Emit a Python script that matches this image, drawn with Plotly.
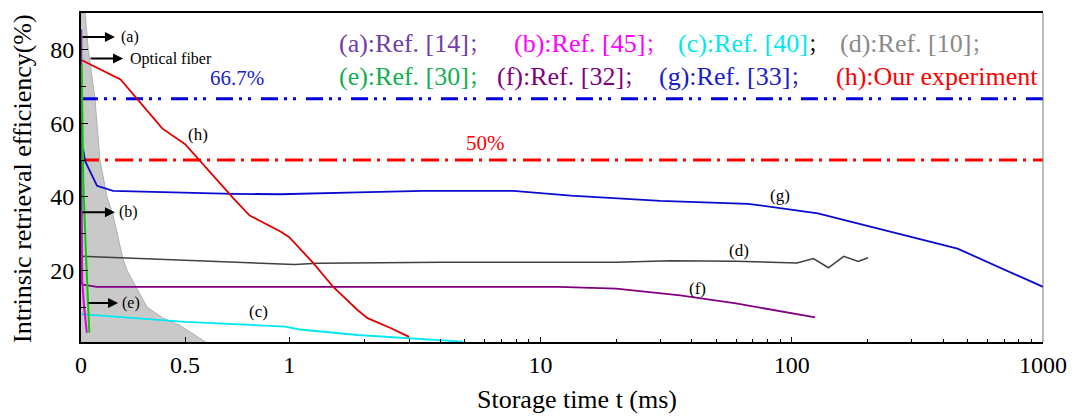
import numpy as np
import plotly.graph_objects as go

# ---------------- data ----------------
# storage time in ms, efficiency in %
fiber_t = [0.0, 0.02, 0.035, 0.067, 0.091, 0.125, 0.154, 0.173, 0.202, 0.221, 0.269, 0.317, 0.394, 0.476, 0.558, 0.611, 0.0]
fiber_v = [90, 90, 80, 66.7, 50, 40, 35, 30, 23, 20, 15, 10, 7, 5, 2, 0, 0]

a_t = [0.001, 0.002, 0.003]
a_v = [85.5, 50, 16]
b_t = [0.002, 0.006, 0.015, 0.028]
b_v = [36, 17, 10, 3]
c_t = [0, 0.5, 0.98, 1.1, 1.87, 3.0, 4.9]
c_v = [8.1, 6.0, 4.7, 3.9, 2.4, 1.5, 0.6]
d_t = [0, 1.05, 1.3, 4.1, 20, 33, 60, 85, 105, 122, 140, 161, 184, 201]
d_v = [23.8, 21.6, 21.9, 22.2, 22.2, 22.6, 22.5, 22.2, 22.0, 23.2, 20.7, 23.8, 22.4, 23.4]
e_t = [0.003, 0.011, 0.024, 0.04]
e_v = [76, 44, 24, 3]
f_t = [0, 0.077, 1.0, 11.8, 20, 36, 60, 100, 124]
f_v = [16.2, 15.5, 15.5, 15.5, 15.0, 13.2, 11.0, 8.4, 7.2]
g_t = [0.01, 0.02, 0.077, 0.154, 0.73, 0.957, 1.87, 3.42, 7.8, 13.2, 30, 67, 127, 457, 1000]
g_v = [53, 49.7, 43, 41.6, 40.8, 40.7, 41.2, 41.6, 41.6, 40.3, 38.9, 38.1, 35.5, 25.9, 15.5]
h_t = [0, 0.19, 0.39, 0.5, 0.73, 0.81, 0.96, 1.0, 1.25, 1.5, 1.87, 2.05, 2.53, 3.0]
h_v = [77.3, 71.9, 58.6, 54.3, 39.7, 34.9, 30.5, 29.0, 21.9, 15.4, 9.2, 7.0, 4.3, 1.9]

limit_g = 66.7
limit_h = 50.0

major_ticks = [0, 0.5, 1, 10, 100, 1000]
major_text = ["0", "0.5", "1", "10", "100", "1000"]
minor_ticks = [m * d for d in (1, 10, 100) for m in range(2, 10)]

SEMI = "<span style=\"font-family:'Noto Sans CJK SC';font-size:19px\">；</span>"
SEMI_BLACK = "<span style=\"font-family:'Noto Sans CJK SC';font-size:19px;color:black\">；</span>"
legend_row1 = ["(a):Ref. [14]" + SEMI, "(b):Ref. [45]" + SEMI, "(c):Ref. [40]" + SEMI_BLACK, "(d):Ref. [10]" + SEMI]
legend_row1_colors = ["#7040a8", "#ff00ff", "#00e8f0", "#8a8a8a"]
legend_row2 = ["(e):Ref. [30]" + SEMI, "(f):Ref. [32]" + SEMI, "(g):Ref. [33]" + SEMI, "(h):Our experiment"]
legend_row2_colors = ["#10b050", "#800080", "#1a1ad0", "#ff0000"]

# ---------------- axis transform: linear 0..1, log beyond ----------------
K = 251.0 / 208.0


def u(t):
    t = np.asarray(t, dtype=float)
    return np.where(t <= 1, t, 1 + np.log10(np.maximum(t, 1.0)) * K)


FONT = "Liberation Serif"

fig = go.Figure()

# optical fiber shaded area
fig.add_trace(go.Scatter(x=u(fiber_t), y=fiber_v, mode="lines", fill="toself",
                         fillcolor="#c9c9c9", line=dict(color="#b0b0b0", width=1),
                         hoverinfo="skip", showlegend=False))

# reference lines
fig.add_trace(go.Scatter(x=u([0, 1000]), y=[limit_g, limit_g], mode="lines",
                         line=dict(color="#0000dd", width=3, dash="17px,6px,3px,6px,3px,10px"),
                         showlegend=False))
fig.add_trace(go.Scatter(x=u([0, 1000]), y=[limit_h, limit_h], mode="lines",
                         line=dict(color="#ff0000", width=3, dash="18px,6px,3px,7px"),
                         showlegend=False))

series = [
    (d_t, d_v, "#404040", 1.5),
    (f_t, f_v, "#800080", 1.8),
    (c_t, c_v, "#00e8f0", 1.8),
    (g_t, g_v, "#0a0ad0", 1.8),
    (h_t, h_v, "#e00000", 1.8),
    (a_t, a_v, "#7030a0", 2),
    (b_t, b_v, "#e000e0", 2),
    (e_t, e_v, "#00d000", 2),
]
for t, v, col, w in series:
    fig.add_trace(go.Scatter(x=u(t), y=v, mode="lines", line=dict(color=col, width=w),
                             showlegend=False))

annotations = []

# legend-like text
row1_x = [1.231, 2.072, 2.856, 3.635]
row2_x = [1.231, 1.990, 2.764, 3.615]
for txt, col, x in zip(legend_row1, legend_row1_colors, row1_x):
    annotations.append(dict(x=x, y=81.6, xref="x", yref="y", text=txt, showarrow=False,
                            xanchor="left", yanchor="middle", font=dict(family=FONT, size=26, color=col)))
for txt, col, x in zip(legend_row2, legend_row2_colors, row2_x):
    annotations.append(dict(x=x, y=72.7, xref="x", yref="y", text=txt, showarrow=False,
                            xanchor="left", yanchor="middle", font=dict(family=FONT, size=26, color=col)))

# percentage labels
annotations.append(dict(x=0.75, y=72.4, text="66.7%", showarrow=False,
                        font=dict(family=FONT, size=21, color="#2020d0")))
annotations.append(dict(x=1.942, y=54.6, text="50%", showarrow=False,
                        font=dict(family=FONT, size=21, color="#ff0000")))

# curve labels
for txt, x, y in [("(h)", 0.5625, 57), ("(g)", 3.356, 40.3), ("(d)", 3.159, 25.4),
                  ("(f)", 2.962, 15.1), ("(c)", 0.851, 8.9)]:
    annotations.append(dict(x=x, y=y, text=txt, showarrow=False,
                            font=dict(family=FONT, size=17, color="black")))

# arrows with labels
for head_x, y, ax, lab, lab_x in [(0.163, 83.5, -34, "(a)", 0.183),
                                  (0.202, 77.6, -34, "Optical fiber", 0.226),
                                  (0.163, 35.8, -34, "(b)", 0.173),
                                  (0.178, 11.1, -31, "(e)", 0.188)]:
    annotations.append(dict(x=head_x, y=y, ax=ax, ay=0, text="", showarrow=True,
                            arrowhead=2, arrowsize=1, arrowwidth=2, arrowcolor="black"))
    annotations.append(dict(x=lab_x, y=y, text=lab, showarrow=False, xanchor="left",
                            font=dict(family=FONT, size=16, color="black")))

# axis titles
annotations.append(dict(x=577, y=400, xref="paper", yref="paper", text="Storage time t (ms)",
                        showarrow=False, xanchor="center", yanchor="middle",
                        font=dict(family=FONT, size=26, color="black")))
annotations.append(dict(x=23, y=178, xref="paper", yref="paper", text="Intrinsic retrieval efficiency(%)",
                        showarrow=False, textangle=-90, xanchor="center", yanchor="middle",
                        font=dict(family=FONT, size=26, color="black")))

W, H = 1078, 418
L, R, T, B = 81, 35, 11, 76
pw, ph = W - L - R, H - T - B
for a in annotations:
    if a.get("xref") == "paper":
        a["x"] = (a["x"] - L) / pw
        a["y"] = (H - B - a["y"]) / ph

fig.update_layout(
    width=W, height=H,
    margin=dict(l=L, r=R, t=T, b=B),
    plot_bgcolor="white", paper_bgcolor="white",
    showlegend=False,
    annotations=annotations,
    shapes=[dict(type="line", xref="paper", yref="paper", x0=1, x1=1, y0=0, y1=1,
                 line=dict(color="#777777", width=1))],
    xaxis=dict(range=[0, float(u(1000))], tickmode="array", tickvals=list(u(major_ticks)),
               ticktext=major_text, ticks="inside", ticklen=5, tickwidth=1.2, tickcolor="black",
               minor=dict(tickmode="array", tickvals=list(u(minor_ticks)), ticks="inside",
                          ticklen=3, tickcolor="black"),
               showgrid=False, zeroline=False, showline=True, linecolor="black", linewidth=2,
               mirror=True, tickfont=dict(family=FONT, size=24, color="black")),
    yaxis=dict(range=[0.5, 90], tickmode="array", tickvals=[20, 40, 60, 80],
               ticks="inside", ticklen=7, tickwidth=1.2, tickcolor="black",
               minor=dict(tickmode="array", tickvals=[10, 30, 50, 70], ticks="inside",
                          ticklen=5, tickcolor="black"),
               showgrid=False, zeroline=False, showline=True, linecolor="black", linewidth=2,
               tickfont=dict(family=FONT, size=24, color="black")),
)

fig.write_html("out.html")
